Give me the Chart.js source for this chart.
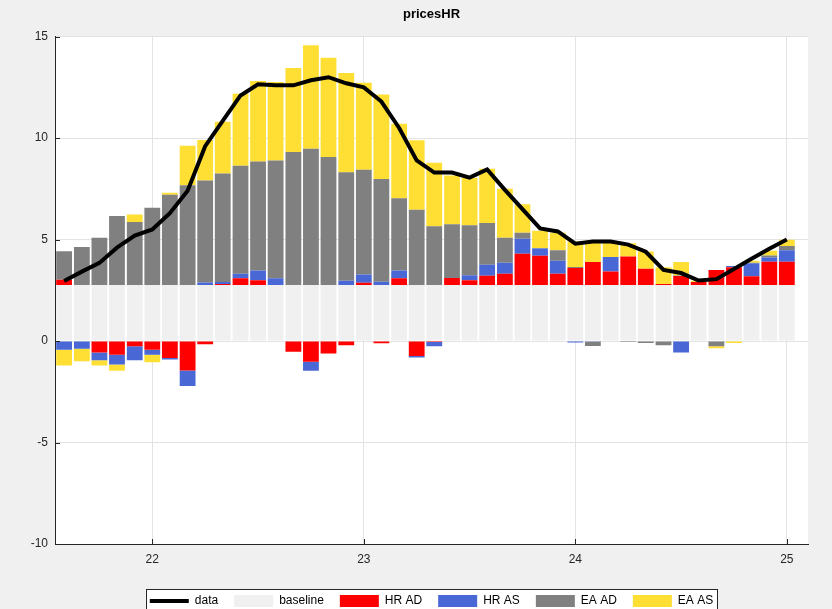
<!DOCTYPE html>
<html>
<head>
<meta charset="utf-8">
<title>pricesHR</title>
<script src="https://cdn.jsdelivr.net/npm/chart.js@4.4.1/dist/chart.umd.min.js"></script>
<style>
  html, body { margin: 0; padding: 0; background: #f0f0f0; }
  #wrap { width: 832px; height: 609px; }
</style>
</head>
<body>
<div id="wrap"><canvas id="chart" width="832" height="609"></canvas></div>
<script>
// monthly obs, Aug 2021 .. Jan 2025, as decimal years
const months = [
  21.583, 21.667, 21.75, 21.833, 21.917, 22.0, 22.083, 22.167, 22.25, 22.333, 22.417, 22.5,
  22.583, 22.667, 22.75, 22.833, 22.917, 23.0, 23.083, 23.167, 23.25, 23.333, 23.417, 23.5,
  23.583, 23.667, 23.75, 23.833, 23.917, 24.0, 24.083, 24.167, 24.25, 24.333, 24.417, 24.5,
  24.583, 24.667, 24.75, 24.833, 24.917, 25.0
];

const dataLine = [
  2.96, 3.42, 3.85, 4.6, 5.2, 5.5, 6.3, 7.4, 9.6, 10.85, 12.1, 12.65,
  12.6, 12.6, 12.85, 13.0, 12.7, 12.5, 11.8, 10.5, 8.9, 8.3, 8.3, 8.05,
  8.45, 7.45, 6.5, 5.55, 5.4, 4.8, 4.9, 4.9, 4.75, 4.4, 3.5, 3.35,
  2.98, 3.05, 3.55, 4.05, 4.55, 5.0
];

const baseline = [
  2.76, 2.76, 2.76, 2.76, 2.76, 2.76, 2.76, 2.76, 2.76, 2.76, 2.76, 2.76,
  2.76, 2.76, 2.76, 2.76, 2.76, 2.76, 2.76, 2.76, 2.76, 2.76, 2.76, 2.76,
  2.76, 2.76, 2.76, 2.76, 2.76, 2.76, 2.76, 2.76, 2.76, 2.76, 2.76, 2.76,
  2.76, 2.76, 2.76, 2.76, 2.76, 2.76
];

const hrAD = [
  0.26, 0, -0.57, -0.67, -0.26, -0.43, -0.84, -1.45, -0.16, 0.05, 0.33, 0.23,
  0, -0.53, -1.02, -0.62, -0.21, 0.11, -0.11, 0.33, -0.74, -0.05, 0.34, 0.23,
  0.46, 0.56, 1.54, 1.44, 0.56, 0.84, 1.13, 0.67, 1.4, 0.8, 0.05, 0.44,
  0.15, 0.74, 0.87, 0.43, 1.15, 1.15
];

const hrAS = [
  -0.43, -0.38, -0.38, -0.48, -0.69, -0.25, -0.07, -0.77, 0.13, 0.1, 0.23, 0.49,
  0.33, 0, -0.44, 0, 0.21, 0.41, 0.16, 0.39, -0.07, -0.21, 0, 0.25,
  0.54, 0.54, 0.74, 0.36, 0.64, -0.07, -0.03, 0.71, 0, 0, 0, -0.57,
  0, 0, 0.07, 0.64, 0.21, 0.56
];

const eaAD = [
  1.41, 1.87, 2.33, 3.4, 3.1, 3.81, 4.45, 4.91, 5.02, 5.35, 5.32, 5.37,
  5.81, 6.55, 6.72, 6.31, 5.35, 5.16, 5.06, 3.56, 3.71, 2.89, 2.66, 2.46,
  2.05, 1.23, 0.3, 0.03, 0.51, 0.05, -0.21, 0, -0.05, -0.1, -0.21, 0.03,
  0, -0.26, 0, 0.03, 0.1, 0.21
];

const eaAS = [
  -0.77, -0.61, -0.25, -0.31, 0.38, -0.36, 0.1, 1.95, 2.0, 2.55, 3.55, 3.96,
  3.86, 4.14, 5.09, 4.89, 4.89, 4.29, 4.17, 3.66, 3.42, 3.14, 2.4, 2.33,
  2.68, 2.41, 1.4, 0.84, 0.87, 1.26, 1.05, 0.77, 0.66, 0.85, 0.82, 0.67,
  0.05, -0.1, -0.1, 0.1, 0.23, 0.31
];

const xTicks = [22, 23, 24, 25];
const yTicks = [-10, -5, 0, 5, 10, 15];

const axisColor = '#262626';
const gridColor = '#e3e3e3';
const font = "'Liberation Sans', Arial, sans-serif";

function pts(vals) {
  return vals.map((v, i) => ({ x: months[i], y: v }));
}

function barSet(label, vals, color) {
  return {
    type: 'bar',
    label: label,
    data: pts(vals),
    backgroundColor: color,
    borderWidth: 0,
    barPercentage: 0.9,
    categoryPercentage: 1,
    pointStyle: 'rect',
    order: 1
  };
}

// grey figure, white axes, framed legend
const figureBg = {
  id: 'figureBg',
  beforeDraw(chart) {
    const { ctx, chartArea: a, width, height } = chart;
    ctx.save();
    ctx.fillStyle = '#f0f0f0';
    ctx.fillRect(0, 0, width, height);
    ctx.fillStyle = '#ffffff';
    ctx.fillRect(a.left, a.top, a.right - a.left, a.bottom - a.top);

    const boxes = chart.legend.legendHitBoxes;
    if (boxes && boxes.length) {
      const l = Math.min(...boxes.map(b => b.left)) - 4;
      const r = Math.max(...boxes.map(b => b.left + b.width)) + 4;
      const t = boxes[0].top - 6;
      ctx.fillRect(l, t, r - l, 40);
      ctx.strokeStyle = axisColor;
      ctx.lineWidth = 1;
      ctx.strokeRect(Math.round(l) + 0.5, Math.round(t) + 0.5, Math.round(r - l), 40);
    }
    ctx.restore();
  }
};

// matlab style ticks pointing into the axes
const innerTicks = {
  id: 'innerTicks',
  afterDraw(chart) {
    const { ctx, chartArea: a, scales } = chart;
    ctx.save();
    ctx.strokeStyle = axisColor;
    ctx.lineWidth = 1;
    ctx.beginPath();
    yTicks.forEach(v => {
      const py = Math.round(scales.y.getPixelForValue(v)) + 0.5;
      ctx.moveTo(a.left, py);
      ctx.lineTo(a.left + 5, py);
    });
    xTicks.forEach(v => {
      const px = Math.round(scales.x.getPixelForValue(v)) + 0.5;
      ctx.moveTo(px, a.bottom);
      ctx.lineTo(px, a.bottom - 5);
    });
    ctx.stroke();
    ctx.restore();
  }
};

new Chart(document.getElementById('chart'), {
  data: {
    datasets: [
      {
        type: 'line',
        label: 'data',
        data: pts(dataLine),
        borderColor: '#000000',
        backgroundColor: '#000000',
        borderWidth: 4,
        pointRadius: 0,
        tension: 0,
        pointStyle: 'line',
        order: 0
      },
      barSet('baseline', baseline, '#f0f0f0'),
      barSet('HR AD', hrAD, '#ff0000'),
      barSet('HR AS', hrAS, '#4a67d6'),
      barSet('EA AD', eaAD, '#808080'),
      barSet('EA AS', eaAS, '#ffdf34')
    ]
  },
  options: {
    responsive: false,
    animation: false,
    layout: { padding: { left: 5, right: 24, top: 0, bottom: -8 } },
    scales: {
      x: {
        type: 'linear',
        stacked: true,
        offset: false,
        min: 21.54,
        max: 25.1,
        afterBuildTicks: s => { s.ticks = xTicks.map(v => ({ value: v })); },
        afterFit: s => { s.height = 35; },
        grid: { color: gridColor, drawTicks: false, offset: false },
        border: { color: axisColor },
        ticks: {
          color: axisColor,
          font: { family: font, size: 12 },
          padding: 8,
          maxRotation: 0
        }
      },
      y: {
        stacked: true,
        min: -10,
        max: 15,
        afterBuildTicks: s => { s.ticks = yTicks.map(v => ({ value: v })); },
        afterFit: s => { s.width = 50; },
        grid: { color: gridColor, drawTicks: false },
        border: { color: axisColor },
        ticks: {
          color: axisColor,
          font: { family: font, size: 12 },
          padding: 7
        }
      }
    },
    plugins: {
      title: {
        display: true,
        text: 'pricesHR',
        fullSize: false,
        color: '#000000',
        font: { family: font, size: 13, weight: 'bold' },
        padding: { top: 7, bottom: 14 }
      },
      legend: {
        position: 'bottom',
        fullSize: false,
        labels: {
          usePointStyle: true,
          pointStyleWidth: 39,
          boxHeight: 13,
          padding: 16,
          color: '#000000',
          font: { family: font, size: 12 }
        }
      },
      tooltip: { enabled: false }
    }
  },
  plugins: [figureBg, innerTicks]
});
</script>
</body>
</html>
